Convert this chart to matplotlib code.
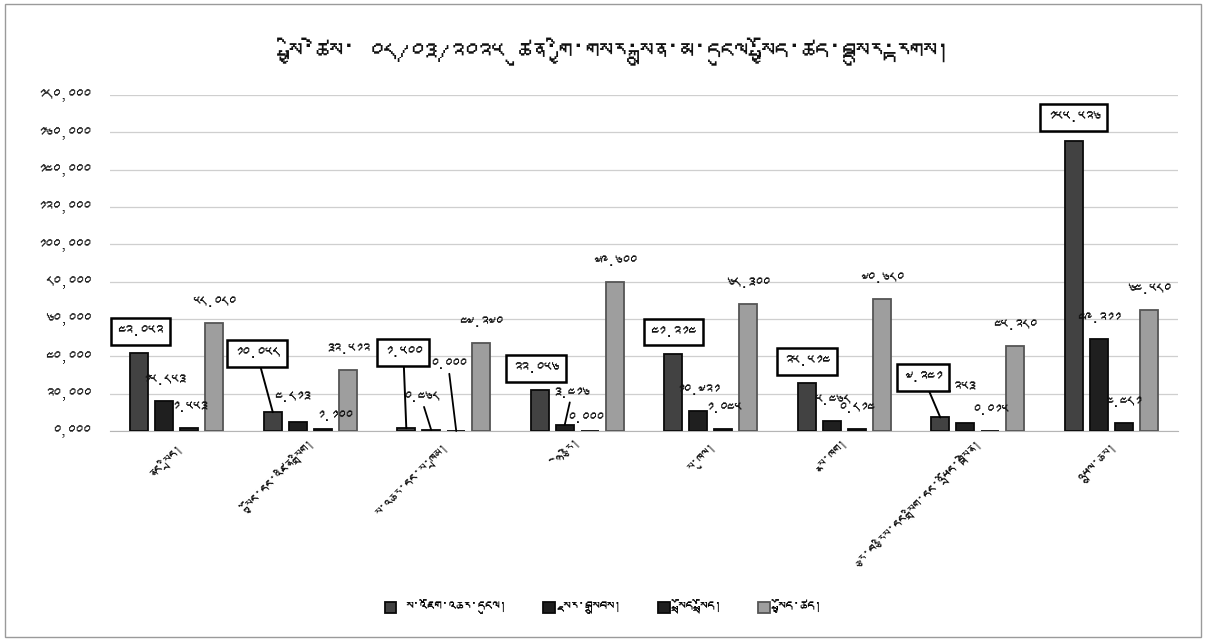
import matplotlib
matplotlib.use("Agg")
import matplotlib.pyplot as plt
from matplotlib import font_manager
from matplotlib.ft2font import FT2Font
from matplotlib.patches import Rectangle
import numpy as np

# ---------------- data ----------------
title = "སྤྱི་ཚེས་ ༠༨/༠༣/༢༠༢༥ ཚུན་གྱི་གསར་སྐྲུན་མ་དངུལ་སྤྱོད་ཚད་བསྡུར་རྟགས།"
categories = [
    "ནང་སྲིད།",
    "སྐྱོང་དང་འཛིན་སྒྲིག།",
    "ས་འཆར་དང་ས་ཁྲམ།",
    "ཉེ་རྩེ།",
    "ས་ཁུལ།",
    "སྣ་ཁག།",
    "རྩ་བ་རྩིས་དང་སྒྲིག་དང་འཕྲོད་བསྟེན།",
    "འཕྲུལ་ཆས།",
]
series_names = ["ས་འཇོག་འཆར་དངུལ།", "སྔར་བསྒྲུབས།", "སྤྲོད་སྤྲོད།", "སྤྱོད་ཚད།"]
budget   = [42.052, 10.058, 1.500, 22.056, 41.214, 25.514, 7.241, 155.526]
received = [15.853, 4.813, 0.468, 3.416, 10.721, 5.468, 4.253, 49.211]
released = [1.553, 1.100, 0.000, 0.000, 1.045, 0.814, 0.015, 4.481]
spent    = [58.080, 32.512, 47.270, 79.600, 68.300, 70.680, 45.280, 64.580]
yticks = [0, 20, 40, 60, 80, 100, 120, 140, 160, 180]

series = [budget, received, released, spent]

# ---------------- fonts ----------------
tib_font = None
for f in font_manager.fontManager.ttflist:
    try:
        cm = FT2Font(f.fname).get_charmap()
        if 0x0F40 in cm and 0x0F22 in cm:
            tib_font = f.name
            break
    except Exception:
        pass
fams = ([tib_font] if tib_font else []) + ["DejaVu Sans"]
plt.rcParams["font.family"] = fams

TIB = str.maketrans("0123456789", "༠༡༢༣༤༥༦༧༨༩")


def tib(s):
    return s.translate(TIB)


# ---------------- styles ----------------
colors = ["#424242", "#1f1f1f", "#1f1f1f", "#9e9e9e"]
edges = ["#0a0a0a", "#0a0a0a", "#0a0a0a", "#555555"]
pitch = 0.187
width = 0.135
PX = 0.72  # points per pixel at dpi 100

# boxed-label offsets (pixels) for first series
box_off = [(1, 21), (-16, 59), (-3, 76), (-4, 21), (0, 22), (0, 22), (-17, 40), (0, 23)]
# overrides for other labels: (series, category) -> (dx, dy, leader)
lab_over = {
    (1, 1): (-6, 24, False),
    (2, 1): (12, 12, False),
    (1, 2): (-10, 32, True),
    (1, 3): (7, 31, True),
    (1, 6): (-8, 35, False),
    (2, 2): (-8, 66, True),
    (2, 3): (-4, 12, False),
    (2, 6): (0, 20, False),
}

fig = plt.figure(figsize=(12.07, 6.41), dpi=100)
fig.patch.set_facecolor("white")
ax = fig.add_axes([110 / 1207, 1 - 431 / 641, (1178 - 110) / 1207, (431 - 95) / 641])

x = np.arange(len(categories))
handles = []
for j, vals in enumerate(series):
    h = ax.bar(x + (j - 1.5) * pitch, vals, width, color=colors[j], edgecolor=edges[j],
               linewidth=1.3, zorder=3, label=series_names[j])
    handles.append(h)

ax.set_ylim(0, 180)
ax.set_xlim(-0.5, len(categories) - 0.5)
ax.set_yticks(yticks)
ax.set_yticklabels([tib(f"{v},000") for v in yticks], fontsize=11, color="#222222")
ax.tick_params(axis="y", length=0, pad=14)
ax.set_xticks(x)
ax.set_xticklabels(categories, rotation=45, ha="right", rotation_mode="anchor",
                   fontsize=10, color="#111111")
ax.tick_params(axis="x", length=0, pad=8)
ax.grid(axis="y", color="#cfcfcf", linewidth=0.9, zorder=0)
for s in ["top", "right", "left"]:
    ax.spines[s].set_visible(False)
ax.spines["bottom"].set_color("#b5b5b5")

# data labels
for j, vals in enumerate(series):
    for i, v in enumerate(vals):
        bx = x[i] + (j - 1.5) * pitch
        txt = tib(f"{v:.3f}")
        if j == 0:
            dx, dy = box_off[i]
            ap = dict(arrowstyle="-", color="black", lw=1.4, shrinkA=0, shrinkB=0) if dy > 26 else None
            ax.annotate(txt, (bx, v), xytext=(dx * PX, dy * PX), textcoords="offset points",
                        ha="center", va="center", fontsize=11, color="#111111", zorder=6,
                        bbox=dict(boxstyle="square,pad=0.45", fc="white", ec="black", lw=1.8),
                        arrowprops=ap)
        else:
            dx, dy, lead = lab_over.get((j, i), (0, 20, False))
            ap = dict(arrowstyle="-", color="black", lw=1.3, shrinkA=0, shrinkB=0) if lead else None
            ax.annotate(txt, (bx, v), xytext=(dx * PX, dy * PX), textcoords="offset points",
                        ha="center", va="center", fontsize=10.5, color="#111111", zorder=5,
                        arrowprops=ap)

fig.text(0.513, 1 - 52 / 641, title, ha="center", va="center", fontsize=19.5, color="#111111")

fig.legend(handles=handles, labels=series_names, loc="center", bbox_to_anchor=(0.5, 1 - 607 / 641),
           ncol=4, frameon=False, fontsize=10.5, handlelength=0.8, handleheight=0.8,
           columnspacing=2.5, handletextpad=0.6)

fig.patches.append(Rectangle((5 / 1207, 4 / 641), 1196 / 1207, 633 / 641, transform=fig.transFigure,
                             fill=False, ec="#9a9a9a", lw=1.0))

fig.savefig("out.png", dpi=100, facecolor="white")
